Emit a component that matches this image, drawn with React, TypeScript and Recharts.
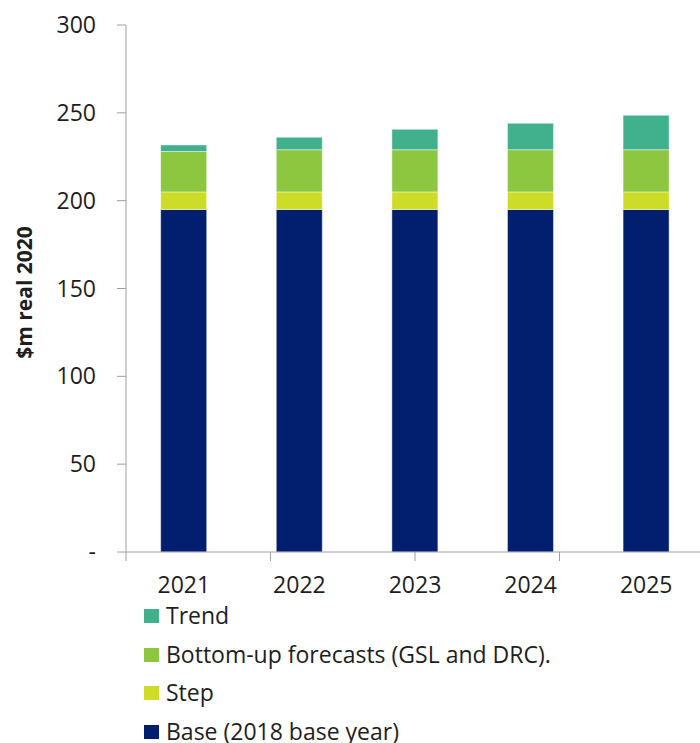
import React from "react";
import { BarChart, Bar, XAxis, YAxis, Legend } from "recharts";

const years = ["2021", "2022", "2023", "2024", "2025"];
const baseValues = [195, 195, 195, 195, 195];
const stepValues = [10, 10, 10, 10, 10];
const bottomUpValues = [23, 24, 24, 24, 24];
const trendValues = [3.7, 7.1, 11.6, 15, 19.6];
const yTicks = [0, 50, 100, 150, 200, 250, 300];
const edgeTicks = [0, 1, 2, 3, 4, 5];

const FONT = "'Open Sans', 'Liberation Sans', sans-serif";
const TEXT = "#1e1e1e";
const AXIS = "#a0a0a0";

const series = [
  { key: "base", name: "Base (2018 base year)", color: "#021f6f" },
  { key: "step", name: "Step", color: "#cddc27" },
  { key: "bottomUp", name: "Bottom-up forecasts (GSL and DRC).", color: "#8dc63f" },
  { key: "trend", name: "Trend", color: "#40b08d" },
];

const data = years.map((year, i) => ({
  year,
  base: baseValues[i],
  step: stepValues[i],
  bottomUp: bottomUpValues[i],
  trend: trendValues[i],
}));

/** Vertical legend, top entry = top of the stack (Excel order). */
function StackLegend() {
  const items = [...series].reverse();
  return (
    <div style={{ paddingLeft: 144, fontFamily: FONT, fontSize: 23, color: TEXT }}>
      {items.map((s) => (
        <div key={s.key} style={{ height: 38.5, lineHeight: "38.5px", display: "flex", alignItems: "center" }}>
          <span
            style={{
              display: "inline-block",
              width: 15,
              height: 14,
              background: s.color,
              marginRight: 7,
              marginTop: 2,
            }}
          />
          <span style={{ whiteSpace: "nowrap" }}>{s.name}</span>
        </div>
      ))}
    </div>
  );
}

function YLabel(props: any) {
  const vb = props.viewBox || {};
  const cx = (vb.x ?? 0) + 24;
  const cy = (vb.y ?? 0) + (vb.height ?? 0) / 2 + 4;
  return (
    <text
      x={cx}
      y={cy}
      transform={`rotate(-90, ${cx}, ${cy})`}
      textAnchor="middle"
      dominantBaseline="central"
      fontFamily={FONT}
      fontWeight={700}
      fontSize={21}
      fill={TEXT}
    >
      $m real 2020
    </text>
  );
}

export default function App() {
  return (
    <div style={{ position: "absolute", top: 0, left: 0, width: 700, height: 743, background: "#fff" }}>
      <BarChart
        width={700}
        height={743}
        data={data}
        margin={{ top: 25, right: -4, bottom: 0, left: 0 }}
        barCategoryGap="30%"
      >
        <XAxis
          xAxisId="b"
          dataKey="year"
          height={182}
          axisLine={false}
          tickLine={false}
          tickSize={0}
          tickMargin={16}
          tick={{ fontSize: 23, fill: TEXT, fontFamily: FONT }}
        />
        {/* category boundaries carry the tick marks, like the original */}
        <XAxis
          xAxisId="a"
          type="number"
          domain={[0, 5]}
          ticks={edgeTicks}
          allowDataOverflow
          height={9}
          tickSize={9}
          tick={() => <g />}
          axisLine={{ stroke: AXIS }}
          tickLine={{ stroke: AXIS }}
        />
        <YAxis
          width={126}
          domain={[0, 300]}
          ticks={yTicks}
          tickSize={9}
          tickMargin={21}
          tickFormatter={(v) => (v === 0 ? "-" : String(v))}
          tick={{ fontSize: 23, fill: TEXT, fontFamily: FONT }}
          axisLine={{ stroke: AXIS }}
          tickLine={{ stroke: AXIS }}
          label={<YLabel />}
        />
        <Legend
          layout="horizontal"
          verticalAlign="middle"
          align="center"
          wrapperStyle={{ top: 596, left: 0, width: 700 }}
          content={() => <StackLegend />}
        />
        {series.map((s) => (
          <Bar
            key={s.key}
            xAxisId="b"
            dataKey={s.key}
            name={s.name}
            stackId="a"
            fill={s.color}
            stroke="#ffffff"
            strokeOpacity={0.45}
            strokeWidth={1}
            isAnimationActive={false}
          />
        ))}
      </BarChart>
    </div>
  );
}
